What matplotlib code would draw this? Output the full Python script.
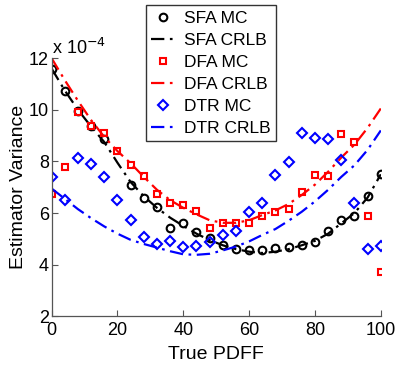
import numpy as np
import matplotlib
matplotlib.use("Agg")
import matplotlib.pyplot as plt

plt.rcParams['font.family'] = ['Liberation Sans', 'DejaVu Sans']

pdff = [0, 4, 8, 12, 16, 20, 24, 28, 32, 36, 40, 44, 48, 52, 56, 60, 64, 68, 72, 76, 80, 84, 88, 92, 96, 100]

sfa_mc = [11.57, 10.74, 9.97, 9.38, 8.86, np.nan, 7.10, 6.60, 6.24, 5.43, 5.63, 5.28, 5.02, 4.76,
          4.61, 4.57, 4.55, 4.66, 4.70, 4.76, 4.89, 5.31, 5.71, 5.89, 6.64, 7.52]
sfa_crlb = [11.6, 10.75, 10.0, 9.35, 8.75, 7.95, 7.2, 6.65, 6.2, 5.82, 5.5, 5.2, 4.95, 4.75,
            4.6, 4.5, 4.45, 4.5, 4.6, 4.75, 4.92, 5.2, 5.6, 6.0, 6.6, 7.5]
dfa_mc = [6.74, 7.80, 9.92, 9.36, 9.09, 8.39, 7.88, 7.43, 6.74, 6.40, 6.31, 6.09, 5.41, 5.60,
          5.63, 5.60, 5.87, 6.03, 6.16, 6.83, 7.48, 7.45, 9.05, 8.77, 5.89, 3.71]
dfa_crlb = [12.0, 11.15, 10.35, 9.6, 8.95, 8.4, 7.93, 7.4, 6.9, 6.5, 6.2, 5.95, 5.72, 5.62,
            5.62, 5.72, 5.92, 6.1, 6.35, 6.7, 7.1, 7.6, 8.15, 8.65, 9.3, 10.05]
dtr_mc = [7.39, 6.51, 8.12, 7.90, 7.39, 6.51, 5.71, 5.06, 4.79, 4.92, 4.70, 4.74, 4.87, 5.15,
          5.31, 6.05, 6.38, 7.48, 7.97, 9.12, 8.92, 8.86, 8.06, 6.38, 4.61, 4.74]
dtr_crlb = [6.95, 6.55, 6.15, 5.8, 5.48, 5.2, 4.96, 4.8, 4.66, 4.52, 4.4, 4.38, 4.42, 4.55,
            4.7, 4.9, 5.15, 5.38, 5.7, 6.05, 6.45, 6.9, 7.4, 7.85, 8.45, 9.2]

x_ticks = [0, 20, 40, 60, 80, 100]
y_ticks = [2, 4, 6, 8, 10, 12]

fig = plt.figure(figsize=(4.0, 3.66), dpi=100)
ax = fig.add_axes([0.129, 0.136, 0.823, 0.705])

dashdot = (0, (6, 2.5, 1.2, 2.5))
lw = 1.6
ax.plot(pdff, sfa_mc, 'o', ms=5.5, mfc='none', mec='black', mew=1.5, ls='none', label='SFA MC')
ax.plot(pdff, sfa_crlb, color='black', lw=lw, ls=dashdot, label='SFA CRLB')
ax.plot(pdff, dfa_mc, 's', ms=5, mfc='none', mec='#ff0000', mew=1.5, ls='none', label='DFA MC')
ax.plot(pdff, dfa_crlb, color='#ff0000', lw=lw, ls=dashdot, label='DFA CRLB')
ax.plot(pdff, dtr_mc, 'D', ms=5, mfc='none', mec='#0000ff', mew=1.5, ls='none', label='DTR MC')
ax.plot(pdff, dtr_crlb, color='#0000ff', lw=lw, ls=dashdot, label='DTR CRLB')

ax.set_xlim(0, 100)
ax.set_ylim(2, 12)
ax.set_xticks(x_ticks)
ax.set_yticks(y_ticks)
ax.tick_params(direction='in', length=4, width=0.8, color='#555555', labelsize=13)
ax.tick_params(axis='x', pad=4)
ax.tick_params(axis='y', pad=2)
for s in ['top', 'right']:
    ax.spines[s].set_visible(False)
for s in ['left', 'bottom']:
    ax.spines[s].set_color('#555555')
    ax.spines[s].set_linewidth(0.9)

ax.set_xlabel('True PDFF', fontsize=14, labelpad=5)
ax.set_ylabel('Estimator Variance', fontsize=14, labelpad=1.5)
ax.text(0.0, 1.0, r'x 10$^{-4}$', transform=ax.transAxes, fontsize=13, ha='left', va='bottom')

leg = ax.legend(loc='upper center', bbox_to_anchor=(0.483, 1.205), fontsize=12.5, frameon=True,
                fancybox=False, edgecolor='black', handlelength=1.4, handletextpad=0.5,
                labelspacing=0.4, borderpad=0.3, borderaxespad=0)
leg.get_frame().set_linewidth(1.0)

fig.savefig('out.png', dpi=100)
